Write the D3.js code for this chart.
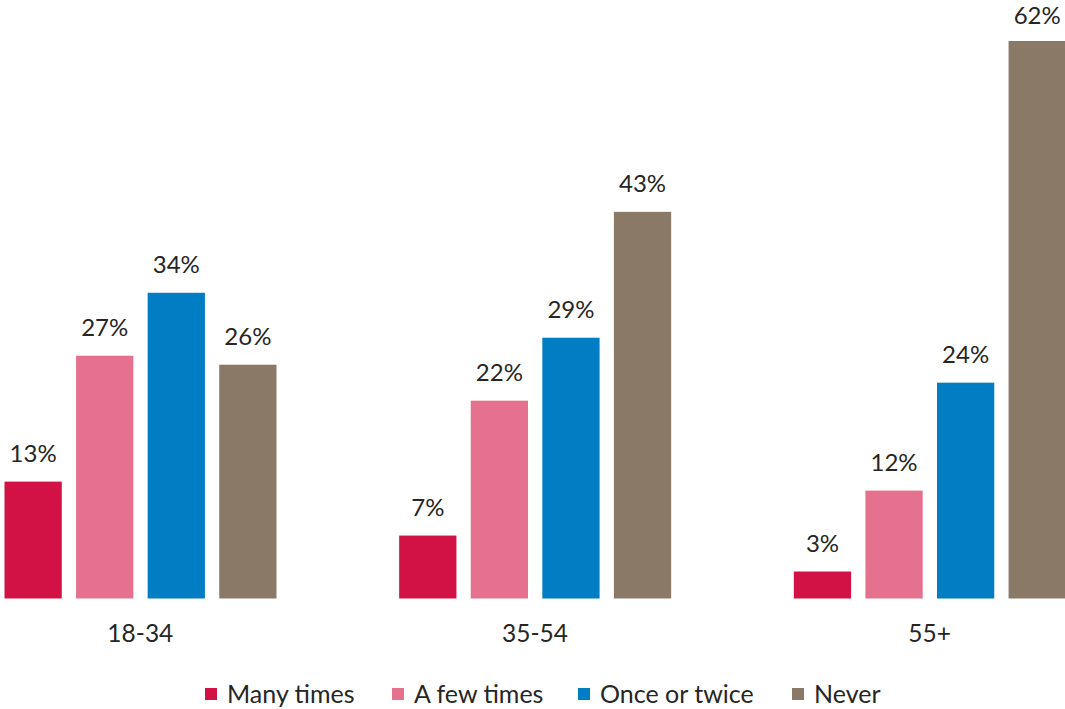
<!DOCTYPE html>
<html>
<head>
<meta charset="utf-8">
<script src="https://cdn.jsdelivr.net/npm/d3@7"></script>
<style>
  html, body { margin: 0; padding: 0; background: #ffffff; }
  svg { display: block; }
  text { font-family: Lato, "Open Sans", sans-serif; fill: #262626; }
</style>
</head>
<body>
<svg id="chart" width="1065" height="709"></svg>
<script>
// Age groups along the x axis
const ageGroups = ["18-34", "35-54", "55+"];
// Response categories (one bar per group each)
const responses = ["Many times", "A few times", "Once or twice", "Never"];
// Share of respondents, in percent, per age group
const manyTimes   = [13, 7, 3];
const aFewTimes   = [27, 22, 12];
const onceOrTwice = [34, 29, 24];
const never       = [26, 43, 62];

const seriesValues = [manyTimes, aFewTimes, onceOrTwice, never];
const colors = ["#D21245", "#E5718F", "#007DC3", "#8A7966"];

const rows = [];
ageGroups.forEach((g, gi) => {
  responses.forEach((r, ri) => {
    rows.push({ group: g, response: r, value: seriesValues[ri][gi] });
  });
});

const svg = d3.select("#chart");

const x0 = d3.scaleBand().domain(ageGroups).range([-57, 1127]).paddingInner(0).paddingOuter(0);
const x1 = d3.scaleBand().domain(responses).range([61.5, 333.5]).paddingInner(0.2).paddingOuter(0);
const y = d3.scaleLinear().domain([0, 62]).range([598.5, 41]);
const color = d3.scaleOrdinal().domain(responses).range(colors);

const groups = svg.selectAll("g.group")
  .data(ageGroups)
  .join("g")
  .attr("class", "group")
  .attr("transform", d => `translate(${x0(d)},0)`);

groups.selectAll("rect")
  .data(g => rows.filter(r => r.group === g))
  .join("rect")
  .attr("x", d => x1(d.response))
  .attr("y", d => y(d.value))
  .attr("width", x1.bandwidth())
  .attr("height", d => y(0) - y(d.value))
  .attr("fill", d => color(d.response));

// Value labels above each bar, kept inside the top edge
const labelSize = 24;
groups.selectAll("text.value")
  .data(g => rows.filter(r => r.group === g))
  .join("text")
  .attr("class", "value")
  .attr("x", d => x1(d.response) + x1.bandwidth() / 2)
  .attr("y", d => Math.max(y(d.value) - 19.5, labelSize))
  .attr("text-anchor", "middle")
  .attr("font-size", labelSize)
  .text(d => d.value + "%");

// Category axis labels (no axis line)
const xAxis = d3.axisBottom(x0).tickSize(0).tickPadding(0);
const axisG = svg.append("g")
  .attr("transform", "translate(0,625)")
  .call(xAxis);
axisG.select(".domain").remove();
axisG.selectAll("text")
  .attr("font-size", 24.5)
  .attr("fill", "#262626")
  .attr("font-family", "Lato, 'Open Sans', sans-serif")
  .attr("dy", "0.71em");

// Legend
const legendX = [205, 392, 578, 792];
const legend = svg.append("g").attr("class", "legend");
const items = legend.selectAll("g")
  .data(responses)
  .join("g")
  .attr("transform", (d, i) => `translate(${legendX[i]},0)`);
items.append("rect")
  .attr("x", 0).attr("y", 688)
  .attr("width", 12).attr("height", 12)
  .attr("fill", d => color(d));
items.append("text")
  .attr("x", 22).attr("y", 703)
  .attr("font-size", 25)
  .text(d => d);
</script>
</body>
</html>
